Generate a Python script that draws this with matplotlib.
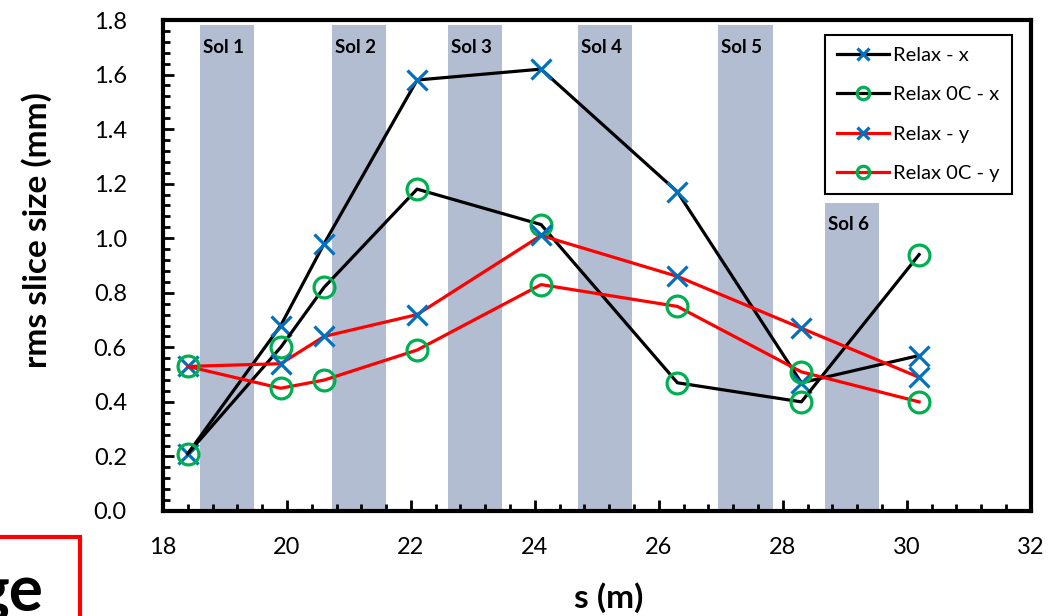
import matplotlib.pyplot as plt
from matplotlib.patches import Rectangle

plt.rcParams['font.family'] = ['Lato', 'DejaVu Sans']

# posiciones (m) de las mediciones
s = [18.4, 19.9, 20.6, 22.1, 24.1, 26.3, 28.3, 30.2]

relax_x = [0.21, 0.68, 0.98, 1.58, 1.62, 1.17, 0.47, 0.57]
relax0c_x = [0.21, 0.60, 0.82, 1.18, 1.05, 0.47, 0.40, 0.94]
relax_y = [0.53, 0.54, 0.64, 0.72, 1.01, 0.86, 0.67, 0.49]
relax0c_y = [0.53, 0.45, 0.48, 0.59, 0.83, 0.75, 0.51, 0.40]

# solenoides: inicio, fin, altura de la banda
sol_names = ["Sol 1", "Sol 2", "Sol 3", "Sol 4", "Sol 5", "Sol 6"]
sol_start = [18.6, 20.72, 22.6, 24.7, 26.96, 28.68]
sol_end = [19.47, 21.6, 23.47, 25.57, 27.84, 29.55]
sol_top = [1.78, 1.78, 1.78, 1.78, 1.78, 1.13]

series = [
    ("Relax - x", relax_x, "black", "x"),
    ("Relax 0C - x", relax0c_x, "black", "o"),
    ("Relax - y", relax_y, "red", "x"),
    ("Relax 0C - y", relax0c_y, "red", "o"),
]

fig = plt.figure(figsize=(10.48, 6.16), dpi=100)
ax = fig.add_axes([0.1555, 0.1705, 0.828, 0.797])

for name, a, b, top in zip(sol_names, sol_start, sol_end, sol_top):
    ax.add_patch(Rectangle((a, 0), b - a, top, facecolor="#b3bdd1", edgecolor="none", zorder=0))
    ax.text(a + 0.05, top - 0.08, name, fontsize=13.5, fontweight="bold", va="center", ha="left", zorder=1)

for label, vals, col, mk in series:
    if mk == "x":
        ax.plot(s, vals, color=col, lw=2.3, marker="x", ms=14, mec="#0070c0", mew=2.3, label=label, zorder=3)
    else:
        ax.plot(s, vals, color=col, lw=2.3, marker="o", ms=15, mfc="none", mec="#00b050", mew=2.3, label=label, zorder=3)

ax.set_xlim(18, 32)
ax.set_ylim(0, 1.8)
ax.set_xticks(range(18, 33, 2))
ax.set_xticks([18 + 0.4 * i for i in range(36)], minor=True)
ax.set_yticks([0.2 * i for i in range(10)])
ax.set_yticks([0.04 * i for i in range(46)], minor=True)
ax.yaxis.set_major_formatter(plt.FormatStrFormatter("%.1f"))

ax.tick_params(which="both", direction="in", width=2, labelsize=17, colors="black")
ax.tick_params(which="major", length=8)
ax.tick_params(which="minor", length=5)
ax.tick_params(axis="y", pad=26)
ax.tick_params(axis="x", pad=19)
for sp in ax.spines.values():
    sp.set_linewidth(3)

ax.set_xlabel("s (m)", fontsize=24, fontweight="bold", va="center")
ax.xaxis.set_label_coords(0.514, -0.177)
ax.set_ylabel("rms slice size (mm)", fontsize=24, fontweight="bold", va="center")
ax.yaxis.set_label_coords(-0.146, 0.572)

leg = ax.legend(loc="upper right", bbox_to_anchor=(0.99, 0.99), fontsize=14.5, markerscale=0.6,
                fancybox=False, edgecolor="black", framealpha=1, handlelength=2.6,
                handletextpad=0.2, labelspacing=1.1, borderpad=0.6)
leg.get_frame().set_linewidth(1.5)

# recuadro rojo recortado abajo a la izquierda
fig.patches.append(Rectangle((-0.01, -0.02), 0.0863, 0.148, transform=fig.transFigure,
                             facecolor="white", edgecolor="red", linewidth=3))
fig.text(43 / 1048, 0.008, "ge", fontsize=46, fontweight="bold", ha="right", va="baseline")

fig.savefig("out.png", dpi=100)
